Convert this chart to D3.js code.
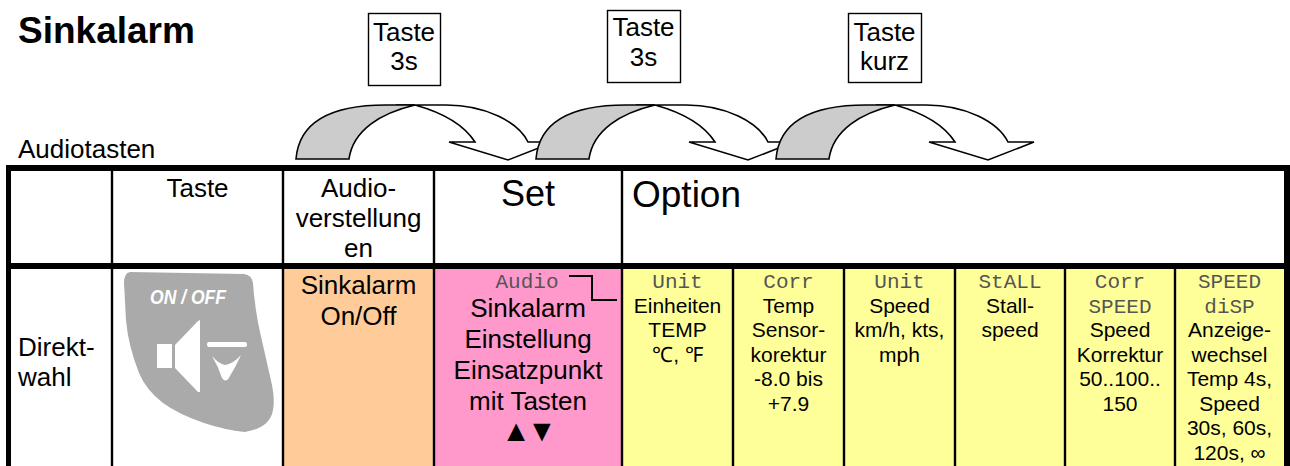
<!DOCTYPE html>
<html>
<head>
<meta charset="utf-8">
<script src="https://cdn.jsdelivr.net/npm/d3@7"></script>
<style>
  html, body { margin: 0; padding: 0; background: #fff; }
  svg { display: block; }
  text { font-family: "Liberation Sans", Arial, sans-serif; fill: #000; }
  text.mono { font-family: "Liberation Mono", "Courier New", monospace; fill: #555; }
</style>
</head>
<body>
<div id="chart"></div>
<script>
// ---------------- Content ---------------- //
const title = "Sinkalarm";
const rowLabel = "Audiotasten";
const keyBoxes = [["Taste", "3s"], ["Taste", "3s"], ["Taste", "kurz"]];
const keyHeader = "Taste";
const audioHeader = ["Audio-", "verstellung", "en"];
const setHeader = "Set";
const optionHeader = "Option";
const directLabel = ["Direkt-", "wahl"];
const audioCell = ["Sinkalarm", "On/Off"];
const setCode = "Audio";
const setCell = ["Sinkalarm", "Einstellung", "Einsatzpunkt", "mit Tasten"];
const setKeys = "▲▼";

// Option columns: display code lines, then description lines
const optionCodes = [["Unit"], ["Corr"], ["Unit"], ["StALL"], ["Corr", "SPEED"], ["SPEED", "diSP"]];
const optionTexts = [
  ["Einheiten", "TEMP", "℃, ℉"],
  ["Temp", "Sensor-", "korektur", "-8.0 bis", "+7.9"],
  ["Speed", "km/h, kts,", "mph"],
  ["Stall-", "speed"],
  ["Speed", "Korrektur", "50..100..", "150"],
  ["Anzeige-", "wechsel", "Temp 4s,", "Speed", "30s, 60s,", "120s, ∞"]
];

// ---------------- Layout ---------------- //
const width = 1290, height = 466;
const colEdges = [11, 112, 283, 434, 622, 733, 844, 955, 1065, 1175, 1284];
const colCenter = i => (colEdges[i] + colEdges[i + 1]) / 2;
const boxLayout = [[368, 13, 72, 72, 41, 70], [607, 10, 73, 72, 36, 66], [848, 13, 73, 69, 41, 70]];
const arrowX = d3.scaleLinear().domain([0, 2]).range([296, 776]);
const optionLine = d3.scaleLinear().domain([0, 7]).range([288, 460]);

const svg = d3.select("#chart").append("svg")
  .attr("width", width)
  .attr("height", height);

function label(x, y, str, size, anchor, cls) {
  return svg.append("text")
    .attr("class", cls || null)
    .attr("x", x)
    .attr("y", y)
    .attr("font-size", size)
    .attr("text-anchor", anchor || "middle")
    .text(str);
}

drawHeading();
drawArrows();
drawKeyBoxes();
drawTable();
drawButton();
drawCells();

function drawHeading() {
  label(18, 43, title, 37, "start").attr("font-weight", "bold");
  label(18, 158, rowLabel, 26, "start");
}

function drawKeyBoxes() {
  keyBoxes.forEach((lines, i) => {
    const [x, y, w, h, y1, y2] = boxLayout[i];
    svg.append("rect")
      .attr("x", x + 0.5).attr("y", y + 0.5)
      .attr("width", w).attr("height", h)
      .attr("fill", "#fff").attr("stroke", "#000").attr("stroke-width", 1.4);
    label(x + w / 2, y1, lines[0], 26);
    label(x + w / 2, y2, lines[1], 26);
  });
}

/*
 * Curved-down arrows; each gray tail is painted over the previous arrow head.
 */
function drawArrows() {
  const head = "M100,105 L150,105 C190,105 222,122 232,142 L258,142 L212,160 L153,142 L179,142 C168,125 148,113 119,105 Z";
  const tail = "M0,159 C3,122 35,105 90,105 L119,105 C85,113 57,130 53,159 Z";
  keyBoxes.forEach((d, i) => {
    const g = svg.append("g").attr("transform", `translate(${arrowX(i)},0)`)
      .attr("stroke", "#000").attr("stroke-width", 1.6).attr("stroke-linejoin", "miter");
    g.append("path").attr("d", head).attr("fill", "#fff");
    g.append("path").attr("d", tail).attr("fill", "#ccc");
  });
}

function drawTable() {
  // Cell fills for the lower row
  const fills = [[2, 3, "#FFCC99"], [3, 4, "#FF99CC"], [4, 10, "#FFFF99"]];
  fills.forEach(([a, b, c]) => {
    svg.append("rect")
      .attr("x", colEdges[a]).attr("y", 269)
      .attr("width", colEdges[b] - colEdges[a]).attr("height", height - 269)
      .attr("fill", c);
  });

  // Column rules
  colEdges.slice(1, -1).forEach((x, i) => {
    svg.append("line")
      .attr("x1", x).attr("x2", x)
      .attr("y1", i < 4 ? 171 : 269).attr("y2", height)
      .attr("stroke", "#000").attr("stroke-width", 2.4);
  });

  // Heavy frame and row rule
  const heavy = [[6, 165, 1284, 6], [6, 263, 1284, 6], [6, 165, 5, 301], [1284, 165, 6, 301]];
  heavy.forEach(([x, y, w, h]) => {
    svg.append("rect").attr("x", x).attr("y", y).attr("width", w).attr("height", h).attr("fill", "#000");
  });
}

/*
 * The gray ON/OFF key drawn as a small icon.
 */
function drawButton() {
  const blur = svg.append("defs").append("filter").attr("id", "soft");
  blur.append("feGaussianBlur").attr("stdDeviation", 0.6);
  const g = svg.append("g").attr("filter", "url(#soft)");
  const outline = "M130,272 L244,274 Q252,275 253,283 Q255,310 260,332 L272,385 Q275,400 273,410 " +
    "Q270,428 245,432 Q225,430 204,423 Q178,414 163,403 Q146,390 139,373 Q128,345 126,320 L124,283 Q124,273 130,272 Z";
  g.append("path").attr("d", outline).attr("fill", "#aaa");
  g.append("rect").attr("x", 157).attr("y", 344).attr("width", 15).attr("height", 24).attr("fill", "#fff");
  g.append("path").attr("d", "M175,345 L198,321 L200,320 L200,392 L198,392 L175,368 Z").attr("fill", "#fff");
  g.append("rect").attr("x", 207).attr("y", 342).attr("width", 40).attr("height", 5).attr("rx", 2).attr("fill", "#fff");
  g.append("path").attr("d", "M212,356 Q219,364 225,365 Q233,364 241,355 Q236,366 230,376 Q226,384 222,378 Q218,366 212,356 Z").attr("fill", "#fff");
  label(188, 304, "ON / OFF", 21)
    .attr("font-weight", "bold").attr("font-style", "italic")
    .attr("textLength", 76).attr("lengthAdjust", "spacingAndGlyphs")
    .style("fill", "#fff");
}

function drawCells() {
  // Header row
  label(colCenter(1), 197, keyHeader, 26);
  audioHeader.forEach((s, i) => label(colCenter(2), 197 + i * 30, s, 26));
  label(colCenter(3), 206, setHeader, 36);
  label(632, 207, optionHeader, 37, "start");

  // Lower row
  directLabel.forEach((s, i) => label(18, 356 + i * 30, s, 26, "start"));
  audioCell.forEach((s, i) => label(colCenter(2), 294 + i * 31, s, 26));

  label(527, 288, setCode, 21, "middle", "mono");
  setCell.forEach((s, i) => label(colCenter(3), 317 + i * 31, s, 26));
  label(colCenter(3) - 1, 441, setKeys, 30).attr("letter-spacing", -4);
  svg.append("path")
    .attr("d", d3.line()([[569, 276], [592, 276], [592, 300], [617, 300]]))
    .attr("fill", "none").attr("stroke", "#000").attr("stroke-width", 2);

  optionCodes.forEach((codes, c) => {
    const cx = colCenter(c + 4);
    codes.forEach((s, i) => label(cx, optionLine(i), s, 21, "middle", "mono"));
    optionTexts[c].forEach((s, i) => label(cx, optionLine(i + codes.length), s, 21));
  });
}
</script>
</body>
</html>
